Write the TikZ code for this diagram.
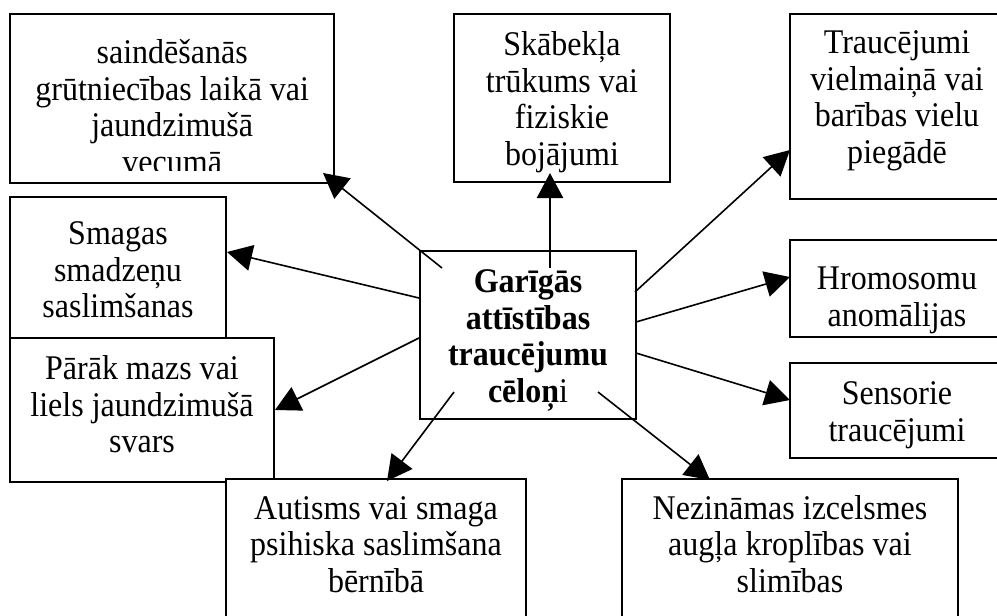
\documentclass[tikz,border=0pt]{standalone}
\usepackage{fontspec}
\setmainfont{Liberation Serif}[FakeStretch=0.925]
\usetikzlibrary{arrows.meta,calc}
\newcommand\bxt[4]{\parbox[c][#2pt][t]{#1pt}{\centering\vspace*{#3pt}\strut #4}}
\begin{document}
\begin{tikzpicture}[x=1pt,y=-1pt,
  box/.style={draw, line width=2pt, fill=white, inner sep=0pt, outer sep=0pt,
    anchor=north west, font=\fontsize{34.6}{36.4}\selectfont},
  arr/.style={line width=1.6pt, -{Triangle[length=25pt,width=26pt]}}]
\clip (0,0) rectangle (997,616);
% top left box (text clipped at bottom)
\node[box, minimum width=324pt, minimum height=169pt] (b1) at (10,14) {};
\begin{scope}
  \clip (b1.north west) rectangle ($(b1.south east)+(0,-13)$);
  \node[anchor=north west, inner sep=0pt, font=\fontsize{34.6}{36.7}\selectfont] (t1) at (b1.north west)
    {\bxt{324}{169}{23.5}{saindēšanās\\grūtniecības laikā vai\\jaundzimušā\\vecumā}};
\end{scope}
\node[box] (b2) at (454,14) {\bxt{216}{168}{16.5}{Skābekļa\\trūkums vai\\fiziskie\\bojājumi}};
\node[box] (b3) at (790,14) {\bxt{214}{185}{14.5}{Traucējumi\\vielmaiņā vai\\barības vielu\\piegādē}};
\node[box] (b4) at (10,197) {\bxt{216}{141}{22.5}{Smagas\\smadzeņu\\saslimšanas}};
\node[box] (b5) at (10,338) {\bxt{264}{144}{16.5}{Pārāk mazs vai\\liels jaundzimušā\\svars}};
\node[box] (b8) at (226,479) {\bxt{300}{161}{15}{Autisms vai smaga\\psihiska saslimšana\\bērnībā}};
\node[box] (b9) at (622,479) {\bxt{336}{161}{15}{Nezināmas izcelsmes\\augļa kroplības vai\\slimības}};
\node[box] (b6) at (790,240) {\bxt{214}{97}{24.5}{Hromosomu\\anomālijas}};
\node[box] (b7) at (790,363) {\bxt{214}{95}{16.5}{Sensorie\\traucējumi}};
\node[box] (c) at (420,251) {\bxt{216}{168}{16.5}{\bfseries Garīgās\\attīstības\\traucējumu\\cēloņ\mdseries i}};
% connector start points inside the centre box
\coordinate (s1) at (442,268);
\coordinate (s2) at (550,268);
\coordinate (s3) at (635,292);
\coordinate (s4) at (419,298);
\coordinate (s5) at (419,338);
\coordinate (s6) at (636,322);
\coordinate (s7) at (636,353);
\coordinate (s8) at (454,392);
\coordinate (s9) at (598,392);
\draw[arr] (s1) -- ($(b1.south east)+(-11,-10)$);
\draw[arr, line width=2.5pt] (s2) -- ($(b2.south)+(-12,-9)$);
\draw[arr] (s3) -- ($(b3.west)+(0,43.5)$);
\draw[arr] (s4) -- ($(b4.east)+(1,-15.5)$);
\draw[arr] (s5) -- ($(b5.east)+(1,0)$);
\draw[arr] (s6) -- ($(b6.west)+(0,-11.5)$);
\draw[arr] (s7) -- ($(b7.west)+(0,-10.5)$);
\draw[arr] (s8) -- ($(b8.north)+(11,2)$);
\draw[arr] (s9) -- ($(b9.north west)+(88,1)$);
\end{tikzpicture}
\end{document}
